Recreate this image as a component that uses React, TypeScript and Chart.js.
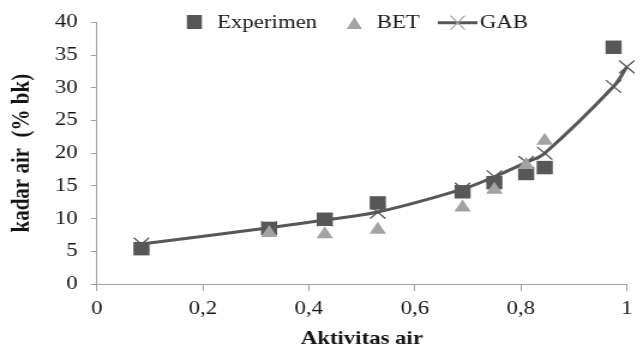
import React, { useEffect, useRef } from 'react';
import { Chart, registerables } from 'chart.js';

Chart.register(...registerables);

// ---- data ----
const expX = [0.084, 0.325, 0.43, 0.53, 0.69, 0.75, 0.81, 0.845, 0.975];
const expY = [5.4, 8.5, 9.9, 12.4, 14.1, 15.5, 16.9, 17.8, 36.2];
const betX = [0.325, 0.43, 0.53, 0.69, 0.75, 0.81, 0.845];
const betY = [7.8, 7.6, 8.3, 11.7, 14.4, 18.2, 21.9];
const gabX = [0.084, 0.325, 0.43, 0.53, 0.69, 0.75, 0.81, 0.845, 0.975, 1.0];
const gabY = [6.1, 8.6, 9.8, 11.0, 14.5, 16.4, 18.6, 20.0, 30.2, 33.2];
const seriesNames = ['Experimen', 'BET', 'GAB'];
const xTickValues = [0, 0.2, 0.4, 0.6, 0.8, 1];
const xTickLabels = ['0', '0,2', '0,4', '0,6', '0,8', '1'];
const yTickValues = [0, 5, 10, 15, 20, 25, 30, 35, 40];
const yTickLabels = ['0', '5', '10', '15', '20', '25', '30', '35', '40'];
const xTitle = 'Aktivitas air';
const yTitle = 'kadar air  (% bk)';

// ---- styling ----
const SERIF = "'Liberation Serif', 'Times New Roman', serif";
const DARK = '#575757';
const LIGHT = '#a3a3a3';
const AXIS = '#a0a0a0';
const TEXT = '#151515';
const W = 536; // chart drawn narrower, then stretched horizontally like the reference
const H = 347;
const SX = 643 / W;

const toPoints = (xs: number[], ys: number[]) => xs.map((x, i) => ({ x, y: ys[i] }));

const legendPlugin = {
  id: 'excelLegend',
  afterDatasetsDraw(chart: any) {
    const ctx = chart.ctx as CanvasRenderingContext2D;
    const ds = chart.data.datasets;
    const cy = 22;
    const base = 28;
    ctx.save();
    // Experimen
    ctx.fillStyle = ds[0].backgroundColor;
    ctx.fillRect(162 - 6.25, cy - 7, 12.5, 14);
    // BET
    ctx.fillStyle = ds[1].backgroundColor;
    ctx.beginPath();
    ctx.moveTo(295.4, 17);
    ctx.lineTo(301.8, 29);
    ctx.lineTo(289, 29);
    ctx.closePath();
    ctx.fill();
    // GAB
    ctx.strokeStyle = ds[2].borderColor;
    ctx.lineWidth = 3;
    ctx.beginPath();
    ctx.moveTo(365, 22.7);
    ctx.lineTo(398, 22.7);
    ctx.stroke();
    ctx.lineWidth = 1.2;
    ctx.strokeStyle = LIGHT;
    ctx.beginPath();
    ctx.moveTo(381.5 - 6, 22.7 - 7);
    ctx.lineTo(381.5 + 6, 22.7 + 7);
    ctx.moveTo(381.5 - 6, 22.7 + 7);
    ctx.lineTo(381.5 + 6, 22.7 - 7);
    ctx.stroke();
    // labels
    ctx.fillStyle = TEXT;
    ctx.font = `19px ${SERIF}`;
    ctx.textAlign = 'left';
    ctx.textBaseline = 'alphabetic';
    ctx.fillText(seriesNames[0], 181, base);
    ctx.fillText(seriesNames[1], 314, base);
    ctx.fillText(seriesNames[2], 400, base);
    ctx.restore();
  },
};

export default function App() {
  const ref = useRef<HTMLCanvasElement | null>(null);

  useEffect(() => {
    if (!ref.current) return;
    const chart = new Chart(ref.current, {
      type: 'scatter',
      data: {
        datasets: [
          {
            label: seriesNames[0],
            data: toPoints(expX, expY),
            pointStyle: 'rect',
            pointRadius: 9.5,
            pointHoverRadius: 9.5,
            backgroundColor: DARK,
            borderWidth: 0,
            pointBorderWidth: 0,
            showLine: false,
            clip: false,
            order: 1,
          },
          {
            label: seriesNames[1],
            data: toPoints(betX, betY),
            pointStyle: 'triangle',
            pointRadius: 8,
            pointHoverRadius: 8,
            backgroundColor: LIGHT,
            borderWidth: 0,
            pointBorderWidth: 0,
            showLine: false,
            clip: false,
            order: 0,
          },
          {
            label: seriesNames[2],
            data: toPoints(gabX, gabY),
            pointStyle: 'crossRot',
            pointRadius: 9,
            pointHoverRadius: 9,
            pointBorderColor: DARK,
            pointBorderWidth: 1.3,
            borderColor: DARK,
            backgroundColor: DARK,
            borderWidth: 3,
            showLine: true,
            tension: 0.35,
            clip: false,
            order: 2,
          },
        ],
      },
      options: {
        animation: false,
        responsive: false,
        maintainAspectRatio: false,
        layout: { padding: { top: 18, right: 13.5, bottom: 0, left: 0 } },
        plugins: {
          legend: { display: false },
          tooltip: { enabled: false },
        },
        scales: {
          x: {
            type: 'linear',
            min: 0,
            max: 1,
            afterBuildTicks: (scale: any) => {
              scale.ticks = xTickValues.map((v) => ({ value: v }));
            },
            afterFit: (scale: any) => {
              scale.height = 63;
            },
            grid: { drawOnChartArea: false, drawTicks: true, tickLength: 7, color: AXIS },
            border: { display: true, color: AXIS, width: 1 },
            ticks: {
              padding: 7,
              color: TEXT,
              font: { family: SERIF, size: 19 },
              maxRotation: 0,
              autoSkip: false,
              callback: (v: any) => {
                const i = xTickValues.findIndex((t) => Math.abs(t - Number(v)) < 1e-6);
                return i >= 0 ? xTickLabels[i] : '';
              },
            },
            title: {
              display: true,
              text: xTitle,
              color: TEXT,
              font: { family: SERIF, size: 19, weight: 'bold', lineHeight: 0.84 },
              padding: { top: 0, bottom: 0 },
            },
          },
          y: {
            type: 'linear',
            min: 0,
            max: 40,
            afterBuildTicks: (scale: any) => {
              scale.ticks = yTickValues.map((v) => ({ value: v }));
            },
            afterFit: (scale: any) => {
              scale.width = 80.8;
            },
            grid: { drawOnChartArea: false, drawTicks: true, tickLength: 5, color: AXIS },
            border: { display: true, color: AXIS, width: 1 },
            ticks: {
              padding: 11,
              color: TEXT,
              font: { family: SERIF, size: 19 },
              autoSkip: false,
              callback: (v: any) => {
                const i = yTickValues.indexOf(Number(v));
                return i >= 0 ? yTickLabels[i] : '';
              },
            },
            title: {
              display: true,
              text: yTitle,
              color: TEXT,
              font: { family: SERIF, size: 21, weight: 'bold', lineHeight: 1.2 },
              padding: { top: 6, bottom: 0 },
            },
          },
        },
      },
      plugins: [legendPlugin],
    } as any);
    return () => chart.destroy();
  }, []);

  return (
    <div
      style={{
        position: 'absolute',
        left: 0,
        top: 0,
        width: 643,
        height: H,
        overflow: 'hidden',
        background: '#fff',
      }}
    >
      <div style={{ width: W, height: H, transform: `scaleX(${SX})`, transformOrigin: '0 0' }}>
        <canvas ref={ref} width={W} height={H} style={{ display: 'block', width: W, height: H }} />
      </div>
    </div>
  );
}
